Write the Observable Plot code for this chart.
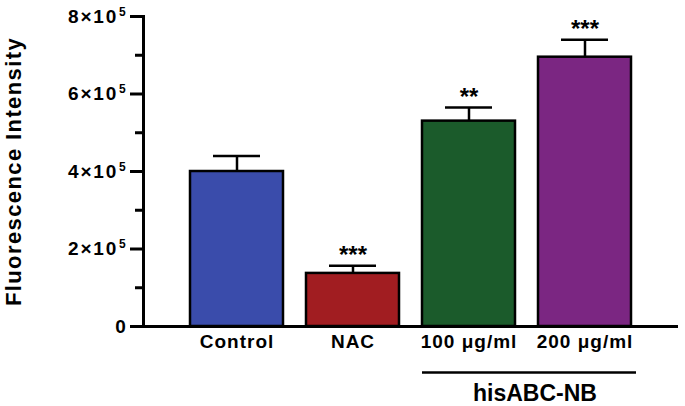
<!DOCTYPE html>
<html><head><meta charset="utf-8">
<script src="https://cdn.jsdelivr.net/npm/d3@7"></script>
<script src="https://cdn.jsdelivr.net/npm/@observablehq/plot@0.6"></script>
<style>
body{margin:0;background:#fff;}
svg{font-family:"Liberation Sans",Arial,Helvetica,sans-serif;}
g[aria-label="y-axis tick label"] text{letter-spacing:1.8px;}
g[aria-label="x-axis tick label"] text{letter-spacing:1px;}
</style></head><body><div id="chart"></div>
<script>
const categories = ["Control", "NAC", "100 μg/ml", "200 μg/ml"];
const means = [4.0e5, 1.37e5, 5.3e5, 6.95e5];
const errors = [0.4e5, 0.2e5, 0.35e5, 0.45e5];
const stars = ["", "***", "**", "***"];
const colors = ["#3a4cab", "#a11d21", "#1b5b2b", "#7b2682"];
const majorTicks = [0, 2e5, 4e5, 6e5, 8e5];
const minorTicks = [1e5, 3e5, 5e5, 7e5];
const yTitle = "Fluorescence Intensity";
const groupData = [{label: "hisABC-NB", from: "100 μg/ml", to: "200 μg/ml"}];

const data = categories.map((c, i) => ({cat: c, mean: means[i], err: errors[i], star: stars[i], color: colors[i]}));

const chart = Plot.plot({
  width: 685, height: 406,
  marginLeft: 143, marginRight: 7, marginTop: 16, marginBottom: 80,
  style: {fontFamily: '"Liberation Sans", Arial, sans-serif', background: "white", overflow: "visible", color: "black"},
  x: {domain: categories, paddingInner: 0.2, paddingOuter: 0.4, axis: null},
  y: {domain: [0, 8e5], axis: null},
  color: {type: "identity"},
  marks: [
    Plot.barY(data, {x: "cat", y: "mean", fill: "color", stroke: "black", strokeWidth: 2.5}),
    Plot.ruleX(data, {x: "cat", y1: "mean", y2: d => d.mean + d.err, strokeWidth: 2.5}),
    Plot.tickY(data, {x: "cat", y: d => d.mean + d.err, insetLeft: 23, insetRight: 23, strokeWidth: 2.5}),
    Plot.text(data, {x: "cat", y: d => d.mean + d.err, text: "star", dy: -3, lineAnchor: "bottom", fontSize: 24, fontWeight: "bold"}),
    Plot.axisY({ticks: majorTicks, tickSize: 13, tickPadding: 3, strokeWidth: 3, fontSize: 19, fontWeight: "bold", label: null,
      tickFormat: d => d === 0 ? "0" : `${d / 1e5}×10`}),
    Plot.axisY({ticks: minorTicks, tickSize: 8, strokeWidth: 3, label: null, tickFormat: () => ""}),
    Plot.axisX({tickSize: 0, tickPadding: 8, fontSize: 19, fontWeight: "bold", label: null}),
    Plot.ruleY([0], {strokeWidth: 3}),
    Plot.frame({anchor: "left", strokeWidth: 3}),
    Plot.text([yTitle], {frameAnchor: "left", textAnchor: "middle", rotate: -90, dx: -138, lineAnchor: "top", fontSize: 22, fontWeight: "bold"}),
    Plot.ruleY(groupData, {y: 0, x1: "from", x2: "to", dy: 46, insetRight: -5, strokeWidth: 2.5}),
    Plot.text(groupData, {x: "from", y: 0, text: "label", dx: 66, dy: 67, lineAnchor: "middle", fontSize: 23, fontWeight: "bold"})
  ]
});

d3.select(chart).selectAll('g[aria-label="y-axis tick label"] text').each(function() {
  const t = d3.select(this);
  const s = t.text();
  if (s && s !== "0") {
    t.append("tspan").attr("dx", 1).attr("dy", -7).attr("font-size", 12).text("5");
  }
});
d3.select(chart).selectAll('g[aria-label="text"]').filter(function() { return d3.select(this).text() === yTitle; })
  .style("letter-spacing", "1.4px");

document.getElementById("chart").appendChild(chart);
</script>
</body></html>
